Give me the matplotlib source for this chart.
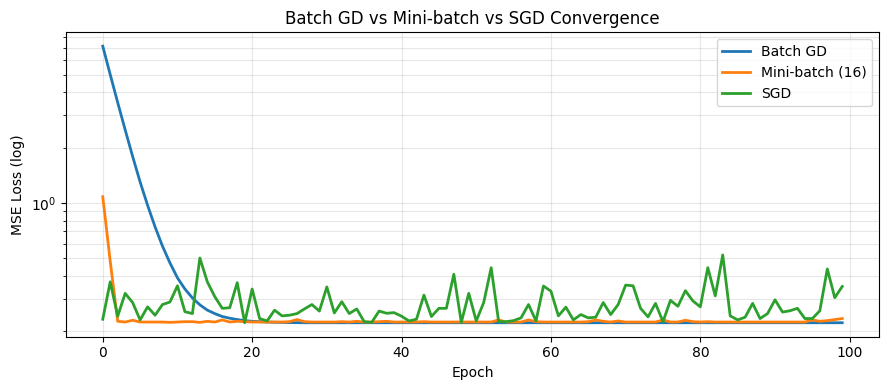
import matplotlib
matplotlib.use("Agg")
import matplotlib.pyplot as plt

epochs = list(range(100))

batch_gd = [
    7.14, 5.00, 3.52, 2.50, 1.79, 1.30, 0.97, 0.74, 0.58, 0.47,
    0.39, 0.339, 0.303, 0.278, 0.260, 0.249, 0.240, 0.235, 0.231, 0.228,
    0.226, 0.225, 0.224, 0.2234, 0.223, 0.2225, 0.2222, 0.222, 0.222, 0.222,
    0.222, 0.222, 0.222, 0.222, 0.222, 0.222, 0.222, 0.222, 0.222, 0.222,
    0.222, 0.222, 0.222, 0.222, 0.222, 0.222, 0.222, 0.222, 0.222, 0.222,
    0.222, 0.222, 0.222, 0.222, 0.222, 0.222, 0.222, 0.222, 0.222, 0.222,
    0.222, 0.222, 0.222, 0.222, 0.222, 0.222, 0.222, 0.222, 0.222, 0.222,
    0.222, 0.222, 0.222, 0.222, 0.222, 0.222, 0.222, 0.222, 0.222, 0.222,
    0.222, 0.222, 0.222, 0.222, 0.222, 0.222, 0.222, 0.222, 0.222, 0.222,
    0.222, 0.222, 0.222, 0.222, 0.222, 0.222, 0.222, 0.222, 0.222, 0.222,
]

mini_batch = [
    1.08, 0.48, 0.226, 0.224, 0.229, 0.224, 0.224, 0.224, 0.224, 0.223,
    0.224, 0.225, 0.225, 0.223, 0.226, 0.224, 0.230, 0.224, 0.226, 0.225,
    0.224, 0.224, 0.224, 0.224, 0.224, 0.225, 0.231, 0.225, 0.224, 0.224,
    0.224, 0.224, 0.225, 0.224, 0.226, 0.224, 0.224, 0.225, 0.226, 0.224,
    0.224, 0.224, 0.224, 0.225, 0.224, 0.224, 0.224, 0.224, 0.224, 0.224,
    0.224, 0.224, 0.224, 0.230, 0.224, 0.224, 0.224, 0.230, 0.225, 0.224,
    0.224, 0.224, 0.224, 0.224, 0.224, 0.225, 0.230, 0.226, 0.224, 0.227,
    0.224, 0.224, 0.224, 0.224, 0.224, 0.230, 0.224, 0.224, 0.229, 0.225,
    0.224, 0.225, 0.224, 0.224, 0.224, 0.224, 0.224, 0.224, 0.224, 0.224,
    0.224, 0.224, 0.224, 0.224, 0.224, 0.230, 0.226, 0.228, 0.231, 0.234,
]

sgd = [
    0.232, 0.371, 0.241, 0.321, 0.286, 0.230, 0.271, 0.244, 0.279, 0.288,
    0.353, 0.255, 0.249, 0.500, 0.371, 0.308, 0.266, 0.268, 0.367, 0.222,
    0.339, 0.234, 0.227, 0.260, 0.242, 0.244, 0.249, 0.264, 0.279, 0.257,
    0.348, 0.251, 0.289, 0.249, 0.264, 0.225, 0.223, 0.257, 0.250, 0.252,
    0.241, 0.227, 0.232, 0.314, 0.240, 0.266, 0.266, 0.408, 0.223, 0.321,
    0.227, 0.286, 0.443, 0.225, 0.225, 0.228, 0.236, 0.279, 0.227, 0.352,
    0.330, 0.242, 0.270, 0.230, 0.246, 0.236, 0.238, 0.286, 0.246, 0.279,
    0.356, 0.353, 0.266, 0.239, 0.283, 0.225, 0.294, 0.273, 0.332, 0.292,
    0.271, 0.443, 0.311, 0.520, 0.242, 0.230, 0.238, 0.283, 0.234, 0.249,
    0.296, 0.254, 0.258, 0.266, 0.234, 0.234, 0.258, 0.436, 0.304, 0.350,
]

fig, ax = plt.subplots(figsize=(8.89, 3.9), dpi=100)
ax.plot(epochs, batch_gd, lw=2, label='Batch GD')
ax.plot(epochs, mini_batch, lw=2, label='Mini-batch (16)')
ax.plot(epochs, sgd, lw=2, label='SGD')
ax.set_yscale('log')
ax.set_title('Batch GD vs Mini-batch vs SGD Convergence')
ax.set_xlabel('Epoch')
ax.set_ylabel('MSE Loss (log)')
ax.grid(True, which='both', alpha=0.3)
ax.legend(loc='upper right')
fig.subplots_adjust(left=0.074, right=0.989, top=0.917, bottom=0.137)
fig.savefig('out.png')
